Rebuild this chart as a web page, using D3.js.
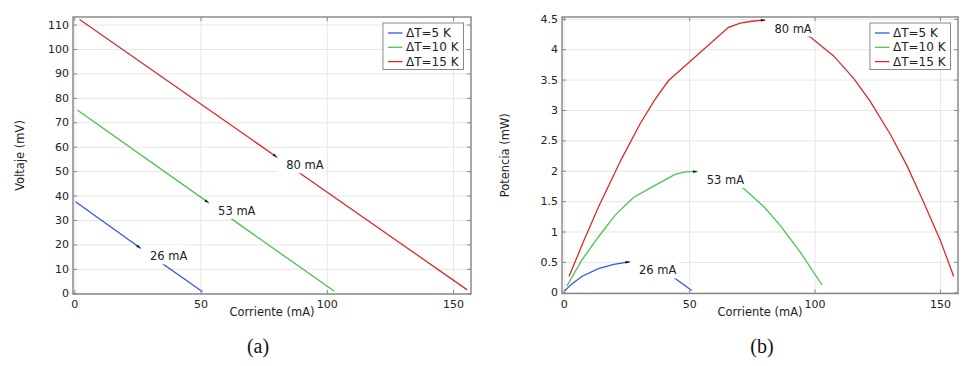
<!DOCTYPE html>
<html>
<head>
<meta charset="utf-8">
<script src="https://cdn.jsdelivr.net/npm/d3@7"></script>
<style>
    body { margin: 0; background: #fff; }
    svg text { font-family: "DejaVu Sans", sans-serif; fill: #222; }
    svg text.caption { font-family: "Liberation Serif", serif; fill: #111; }
</style>
</head>
<body>
<div id="chart"></div>
<script>

// legend / series
const seriesNames = ["ΔT=5 K", "ΔT=10 K", "ΔT=15 K"];
const seriesColors = ["#3556e6", "#4cc44c", "#d92b2b"];

// annotated operating points
const markCurrents = [26, 53, 80];
const markLabels = ["26 mA", "53 mA", "80 mA"];

// axis ticks
const currentTicks = [0, 50, 100, 150];
const voltTicks = [0, 10, 20, 30, 40, 50, 60, 70, 80, 90, 100, 110];
const powTicks = [0, 0.5, 1, 1.5, 2, 2.5, 3, 3.5, 4, 4.5];

// (a) voltage vs current
const voltCurrent5 = [0.5, 26, 50.8];
const voltage5 = [37.5, 18.6, 0.6];
const voltCurrent10 = [1.2, 53, 103];
const voltage10 = [75.0, 37.2, 0.8];
const voltCurrent15 = [2.1, 80, 155.6];
const voltage15 = [112.1, 55.9, 1.4];

// (b) power vs current
const powCurrent5 = [0.3, 3, 7.2, 13.8, 20, 26, 33, 39, 45, 51];
const power5 = [0.02, 0.13, 0.26, 0.39, 0.46, 0.50, 0.47, 0.37, 0.21, 0.03];
const powCurrent10 = [1.2, 7.2, 13.8, 20.5, 27.8, 36, 44.4, 48.4, 54, 62, 71.7, 80, 86.3, 94.3, 103];
const power10 = [0.10, 0.53, 0.91, 1.27, 1.56, 1.75, 1.94, 1.98, 1.99, 1.93, 1.71, 1.40, 1.10, 0.66, 0.12];
const powCurrent15 = [2.1, 8, 13.8, 23.1, 30.4, 36, 41.7, 65.7, 70.4, 75, 80, 89, 98.3, 107.6, 115.6, 122.2, 130.2, 136.9, 143.5, 150.2, 155.5];
const power15 = [0.26, 0.85, 1.40, 2.20, 2.77, 3.15, 3.48, 4.36, 4.43, 4.46, 4.48, 4.40, 4.20, 3.89, 3.52, 3.14, 2.60, 2.08, 1.48, 0.85, 0.26];


class CurvePanel {

    constructor(svg, box, xDomain, yDomain, curves, yTicks, yTitle, yTitleX, caption, captionX) {
        this.svg = svg;
        this.box = box;
        this.xDomain = xDomain;
        this.yDomain = yDomain;
        this.curves = curves;
        this.yTicks = yTicks;
        this.yTitle = yTitle;
        this.yTitleX = yTitleX;
        this.caption = caption;
        this.captionX = captionX;

        this.frameColor = "#8a8a8a";
        this.gridColor = "#e6e6e6";

        this.initVis();
    }

    initVis() {
        let vis = this;
        let b = vis.box;

        vis.x = d3.scaleLinear().domain(vis.xDomain).range([b.left, b.right]);
        vis.y = d3.scaleLinear().domain(vis.yDomain).range([b.bottom, b.top]);

        vis.g = vis.svg.append("g");

        // grid
        let gridX = vis.g.append("g")
            .attr("transform", `translate(0, ${b.bottom})`)
            .call(d3.axisBottom(vis.x).tickValues(currentTicks).tickSize(-(b.bottom - b.top)).tickFormat(""));
        let gridY = vis.g.append("g")
            .attr("transform", `translate(${b.left}, 0)`)
            .call(d3.axisLeft(vis.y).tickValues(vis.yTicks).tickSize(-(b.right - b.left)).tickFormat(""));
        [gridX, gridY].forEach(a => {
            a.select(".domain").remove();
            a.selectAll("line").attr("stroke", vis.gridColor).attr("stroke-width", 1);
        });

        vis.curveLayer = vis.g.append("g");
        vis.labelLayer = vis.g.append("g");

        // tick labels
        let xLabels = vis.g.append("g")
            .attr("transform", `translate(0, ${b.bottom})`)
            .call(d3.axisBottom(vis.x).tickValues(currentTicks).tickSize(0).tickPadding(6.5));
        let yLabels = vis.g.append("g")
            .attr("transform", `translate(${b.left}, 0)`)
            .call(d3.axisLeft(vis.y).tickValues(vis.yTicks).tickSize(0).tickPadding(4)
                .tickFormat(d => String(d)));
        [xLabels, yLabels].forEach(a => {
            a.select(".domain").remove();
            a.selectAll("text").attr("font-size", 11).attr("fill", "#222")
                .style("font-family", '"DejaVu Sans", sans-serif');
        });

        // inner ticks on all four sides
        let tk = 4;
        let axes = [
            [d3.axisBottom(vis.x).tickValues(currentTicks), `translate(0, ${b.bottom})`],
            [d3.axisTop(vis.x).tickValues(currentTicks), `translate(0, ${b.top})`],
            [d3.axisLeft(vis.y).tickValues(vis.yTicks), `translate(${b.left}, 0)`],
            [d3.axisRight(vis.y).tickValues(vis.yTicks), `translate(${b.right}, 0)`]
        ];
        axes.forEach(([ax, tr]) => {
            let a = vis.g.append("g").attr("transform", tr)
                .call(ax.tickSize(-tk).tickFormat(""));
            a.select(".domain").remove();
            a.selectAll("line").attr("stroke", vis.frameColor).attr("stroke-width", 1);
        });

        // frame
        vis.g.append("rect")
            .attr("x", b.left).attr("y", b.top)
            .attr("width", b.right - b.left).attr("height", b.bottom - b.top)
            .attr("fill", "none")
            .attr("stroke", vis.frameColor)
            .attr("stroke-width", 1.5);

        // axis titles
        vis.g.append("text")
            .attr("x", (b.left + b.right) / 2)
            .attr("y", 316)
            .attr("text-anchor", "middle")
            .attr("font-size", 11.5)
            .text("Corriente (mA)");

        vis.g.append("text")
            .attr("transform", `translate(${vis.yTitleX}, ${(b.top + b.bottom) / 2}) rotate(-90)`)
            .attr("text-anchor", "middle")
            .attr("dominant-baseline", "central")
            .attr("font-size", 11.5)
            .text(vis.yTitle);

        vis.g.append("text")
            .attr("class", "caption")
            .attr("x", vis.captionX)
            .attr("y", 353)
            .attr("text-anchor", "middle")
            .attr("font-size", 20)
            .text(vis.caption);

        vis.wrangleData();
    }

    wrangleData() {
        let vis = this;

        vis.displayData = vis.curves.map((c, i) => {
            let interp = d3.scaleLinear().domain(c.current).range(c.value);
            return {
                name: seriesNames[i],
                color: seriesColors[i],
                points: d3.zip(c.current, c.value),
                mark: markCurrents[i],
                markLabel: markLabels[i],
                interp: interp
            };
        });

        vis.updateVis();
    }

    updateVis() {
        let vis = this;
        let b = vis.box;

        let line = d3.line()
            .x(d => vis.x(d[0]))
            .y(d => vis.y(d[1]));

        vis.curveLayer.selectAll(".curve")
            .data(vis.displayData)
            .enter().append("path")
            .attr("class", "curve")
            .attr("fill", "none")
            .attr("stroke", d => d.color)
            .attr("stroke-width", 1.3)
            .attr("d", d => line(d.points));

        // annotations: white box over the curve, label, small arrowhead
        vis.displayData.forEach(d => {
            let tx = vis.x(d.mark), ty = vis.y(d.interp(d.mark));
            let px = vis.x(d.mark - 3), py = vis.y(d.interp(d.mark - 3));
            let ang = Math.atan2(ty - py, tx - px) * 180 / Math.PI;

            let bg = vis.labelLayer.append("rect").attr("fill", "#fff");
            let txt = vis.labelLayer.append("text")
                .attr("x", tx + 10)
                .attr("y", ty + 12.5)
                .attr("font-size", 11.5)
                .text(d.markLabel);
            let w = txt.node().getComputedTextLength();
            bg.attr("x", tx + 1).attr("y", ty - 3)
                .attr("width", w + 11).attr("height", 19.5);

            vis.labelLayer.append("path")
                .attr("d", "M0.5,0 L-3.5,-1.4 L-3.5,1.4 Z")
                .attr("fill", "#111")
                .attr("transform", `translate(${tx}, ${ty}) rotate(${ang})`);
        });

        // legend
        let lg = vis.g.append("g");
        let lgBox = lg.append("rect")
            .attr("fill", "#fff")
            .attr("stroke", "#888")
            .attr("stroke-width", 1);
        let textX = 23, rowH = 14.3, top0 = 10;
        let maxW = 0;
        vis.displayData.forEach((d, i) => {
            lg.append("line")
                .attr("x1", 5).attr("x2", 19.5)
                .attr("y1", top0 + i * rowH).attr("y2", top0 + i * rowH)
                .attr("stroke", d.color).attr("stroke-width", 1.3);
            let t = lg.append("text")
                .attr("x", textX)
                .attr("y", top0 + i * rowH)
                .attr("dominant-baseline", "central")
                .attr("font-size", 12)
                .text(d.name);
            maxW = Math.max(maxW, t.node().getComputedTextLength());
        });
        let lgW = textX + maxW + 5;
        lgBox.attr("x", 0).attr("y", 0).attr("width", lgW).attr("height", 46.5);
        lg.attr("transform", `translate(${b.right - 7.5 - lgW}, ${b.top + 6})`);
    }
}


const svg = d3.select("#chart").append("svg")
    .attr("width", 972)
    .attr("height", 366);

new CurvePanel(svg,
    {left: 73, right: 471, top: 17, bottom: 294},
    [-0.5, 157.1], [-0.3, 113.1],
    [
        {current: voltCurrent5, value: voltage5},
        {current: voltCurrent10, value: voltage10},
        {current: voltCurrent15, value: voltage15}
    ],
    voltTicks, "Voltaje (mV)", 20, "(a)", 258);

new CurvePanel(svg,
    {left: 562, right: 958, top: 17, bottom: 293.5},
    [-0.7, 157.2], [-0.02, 4.53],
    [
        {current: powCurrent5, value: power5},
        {current: powCurrent10, value: power10},
        {current: powCurrent15, value: power15}
    ],
    powTicks, "Potencia (mW)", 505, "(b)", 762);

</script>
</body>
</html>
